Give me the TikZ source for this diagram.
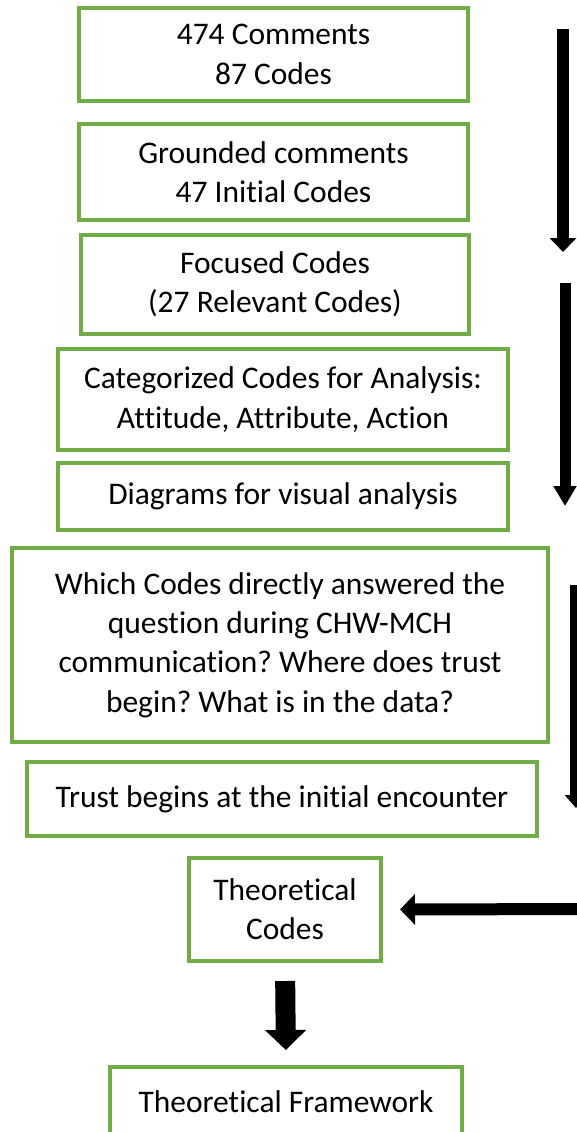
\documentclass[tikz,border=0pt]{standalone}
\usepackage{fontspec}
\setmainfont[Ligatures=NoCommon]{Carlito}
\usetikzlibrary{arrows.meta}
\definecolor{boxgreen}{RGB}{112,173,71}
\frenchspacing
\begin{document}
\begin{tikzpicture}[x=0.75pt,y=-0.75pt,
  box/.style={draw=boxgreen, line width=3pt, inner sep=0pt, align=center,
    font=\fontsize{23.6}{29.5}\selectfont},
  flow/.style={draw=black}]
\useasboundingbox (0,0) rectangle (577,1132);
\clip (0,0) rectangle (577,1132);
\fill[white] (0,0) rectangle (577,1132);

\node[box, minimum width=389*0.75pt, minimum height=93*0.75pt] (b1) at (273.5,54.5) {474 Comments\\87 Codes};
\node[box, minimum width=389*0.75pt, minimum height=96*0.75pt] (b2) at (273.5,172) {Grounded comments\\47 Initial Codes};
\node[box, minimum width=388*0.75pt, minimum height=99*0.75pt] (b3) at (275,284.5) {Focused Codes\\(27 Relevant Codes)};
\node[box, minimum width=450*0.75pt, minimum height=101*0.75pt] (b4) at (283,399.5) {Categorized Codes for Analysis:\\Attitude, Attribute, Action};
\node[box, minimum width=450*0.75pt, minimum height=67*0.75pt] (b5) at (283,496.5) {Diagrams for visual analysis};
\node[box, minimum width=536*0.75pt, minimum height=194*0.75pt] (b6) at (280,645) {Which Codes directly answered the\\question during CHW-MCH\\communication? Where does trust\\begin? What is in the data?};
\node[box, minimum width=510*0.75pt, minimum height=74*0.75pt] (b7) at (282,799) {Trust begins at the initial encounter};
\node[box, minimum width=192*0.75pt, minimum height=103*0.75pt] (b8) at (285,909.5) {Theoretical\\Codes};
\node[box, minimum width=352*0.75pt, minimum height=69*0.75pt] (b9) at (286,1101.5) {Theoretical Framework};

\coordinate (a1s) at (563,29);
\coordinate (a1e) at (563,252);
\coordinate (a2s) at (565,283);
\coordinate (a2e) at (565,506);
\coordinate (a3s) at (576,585);
\coordinate (a3e) at (576,808);
\coordinate (a4s) at (600,909);

\draw[flow, line width=9pt, -{Triangle[length=10.5pt,width=19.5pt]}] (a1s) -- (a1e);
\draw[flow, line width=8.25pt, -{Triangle[length=15pt,width=16.5pt]}] (a2s) -- (a2e);
\draw[flow, line width=9pt, -{Triangle[length=9.75pt,width=16.5pt]}] (a3s) -- (a3e);
\draw[flow, line width=9pt, -{Triangle[length=11.25pt,width=22.5pt]}, shorten >=12.75pt] (a4s) -- (b8.east);
\draw[flow, line width=15pt, -{Triangle[length=15pt,width=30pt]}, shorten <=13.5pt, shorten >=11.25pt] (b8.south) -- (b9.north);
\end{tikzpicture}
\end{document}
